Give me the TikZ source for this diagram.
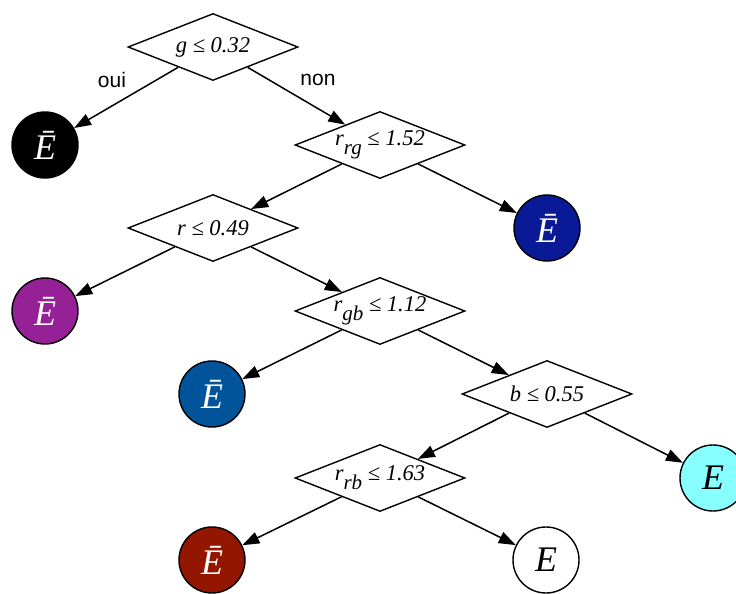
\documentclass[tikz,border=0pt]{standalone}
\usepackage{fontspec}
\setmainfont{Liberation Serif}
\newfontfamily\labelsans{Liberation Sans}
\usetikzlibrary{shapes.geometric,arrows.meta}
\definecolor{cblack}{HTML}{000000}
\definecolor{cnavy}{HTML}{0A1A96}
\definecolor{cpurple}{HTML}{962096}
\definecolor{cblue}{HTML}{02549A}
\definecolor{ccyan}{HTML}{88FFFF}
\definecolor{cred}{HTML}{921600}
\newcommand\sbx[1]{\raisebox{-9pt}{\fontsize{21}{21}\selectfont #1}}
\tikzset{
  test/.style={diamond, draw, line width=1.4pt, fill=white, inner sep=0pt,
    minimum width=170pt, minimum height=67pt, aspect=2.54,
    font=\fontsize{22.5}{22.5}\selectfont\itshape},
  leaf/.style={circle, draw, line width=1.4pt, inner sep=0pt, minimum size=66pt,
    font=\fontsize{36}{36}\selectfont\itshape},
  conn/.style={line width=1.5pt, -{Triangle[length=17pt,width=12pt]}},
  edgelab/.style={font=\fontsize{21}{21}\selectfont\labelsans, inner sep=0pt}
}
\begin{document}
\begin{tikzpicture}[x=1pt,y=-1pt]
\useasboundingbox (0,0) rectangle (736,594);
\clip (0,0) rectangle (736,594);
\node[test] (d1) at (213,47) {g ≤ 0.32};
\node[test] (d2) at (380,145) {r\sbx{rg} ≤ 1.52};
\node[test] (d3) at (213,228) {r ≤ 0.49};
\node[test] (d4) at (380,311) {r\sbx{gb} ≤ 1.12};
\node[test] (d5) at (547,394) {b ≤ 0.55};
\node[test] (d6) at (380,478) {r\sbx{rb} ≤ 1.63};
\node[leaf, fill=cblack, text=white] (c1) at (45,145) {Ē};
\node[leaf, fill=cnavy, text=white] (c2) at (547,228) {Ē};
\node[leaf, fill=cpurple, text=white] (c3) at (45,311) {Ē};
\node[leaf, fill=cblue, text=white] (c4) at (212,394) {Ē};
\node[leaf, fill=ccyan] (c5) at (713,478) {E};
\node[leaf, fill=cred, text=white] (c6) at (212,560) {Ē};
\node[leaf, fill=white] (c7) at (546,560) {E};
\draw[conn] (d1) -- (c1);
\draw[conn] (d1) -- (d2);
\draw[conn] (d2) -- (d3);
\draw[conn] (d2) -- (c2);
\draw[conn] (d3) -- (c3);
\draw[conn] (d3) -- (d4);
\draw[conn] (d4) -- (c4);
\draw[conn] (d4) -- (d5);
\draw[conn] (d5) -- (d6);
\draw[conn] (d5) -- (c5);
\draw[conn] (d6) -- (c6);
\draw[conn] (d6) -- (c7);
\node[edgelab] (loui) at (112,80) {oui};
\node[edgelab] (lnon) at (318,80) {non};
\end{tikzpicture}
\end{document}
